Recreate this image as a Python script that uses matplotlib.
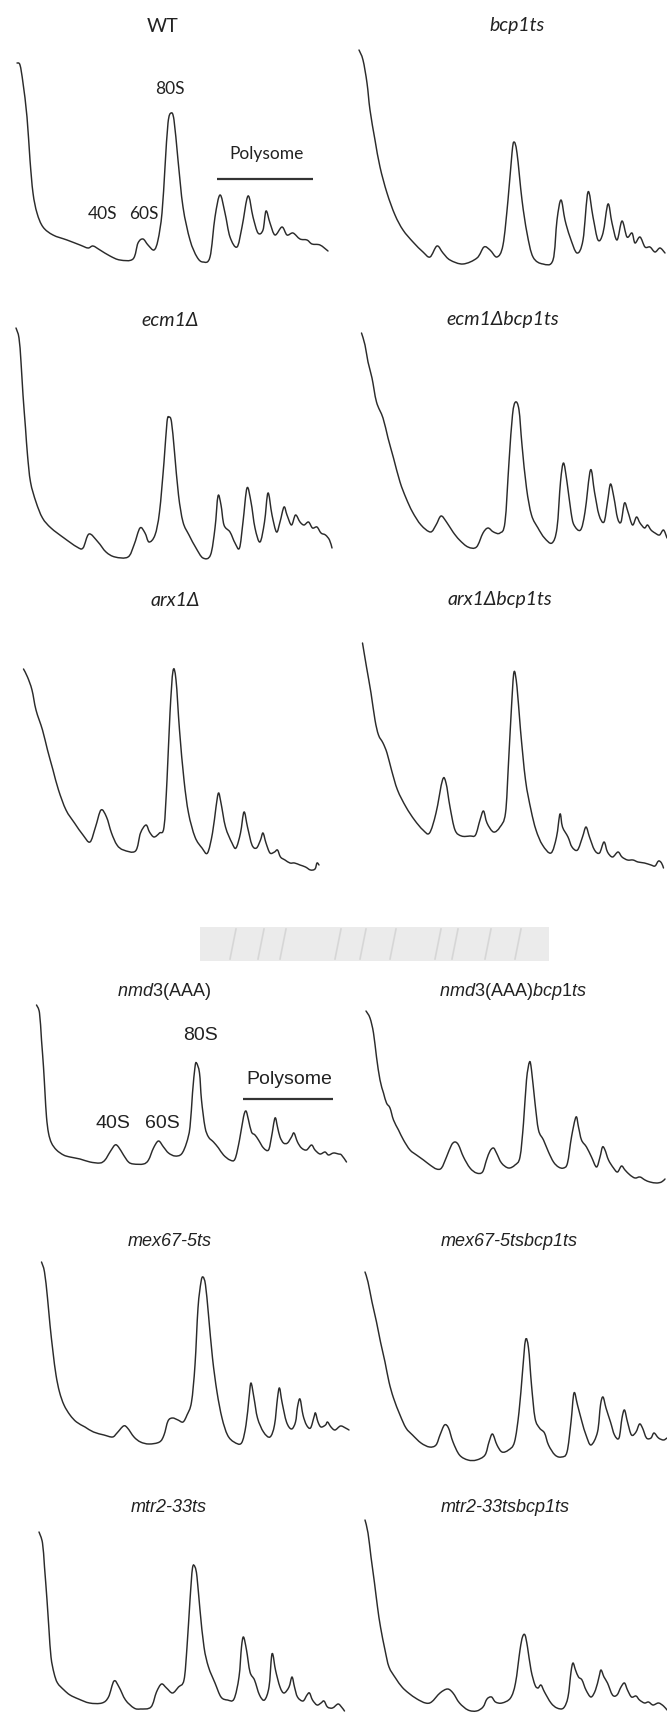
import matplotlib
matplotlib.use("Agg")
import matplotlib.pyplot as plt
from matplotlib.path import Path
from matplotlib.patches import PathPatch

plt.rcParams['mathtext.fontset'] = 'custom'
plt.rcParams['mathtext.rm'] = 'Liberation Sans'
plt.rcParams['mathtext.it'] = 'Liberation Sans:italic'

# sedimentation profiles, x = position along gradient, y = absorbance (arbitrary units)
wt_x = [17, 20, 23, 27, 30, 33, 37, 43, 53, 67, 80, 88, 93, 100, 110, 120, 133, 138, 143, 148, 154, 158, 162, 165, 168, 171, 174, 178, 183, 190, 197, 203, 210, 215, 220, 225, 230, 237, 242, 248, 253, 258, 263, 266, 270, 275, 282, 287, 293, 300, 307, 312, 320, 328]
wt_y = [207, 205, 187, 153, 110, 77, 57, 43, 35, 30, 25, 22, 24, 20, 14, 10, 11, 27, 31, 25, 20, 30, 57, 103, 147, 157, 150, 110, 63, 30, 13, 8, 13, 53, 75, 57, 33, 23, 43, 74, 53, 37, 40, 59, 47, 35, 43, 35, 37, 31, 30, 26, 25, 19]

bcp1_x = [26, 30, 34, 37, 42, 47, 54, 62, 70, 80, 90, 97, 104, 110, 117, 130, 144, 151, 157, 164, 170, 175, 179, 181, 184, 189, 194, 200, 210, 220, 224, 228, 232, 237, 244, 250, 255, 260, 265, 270, 275, 279, 284, 289, 294, 299, 302, 307, 312, 317, 322, 327, 332]
bcp1_y = [220, 210, 187, 160, 130, 103, 77, 55, 40, 28, 18, 13, 24, 17, 10, 6, 12, 23, 20, 13, 25, 70, 117, 128, 117, 70, 37, 13, 6, 10, 50, 70, 50, 33, 17, 30, 78, 53, 30, 37, 66, 47, 30, 49, 33, 37, 27, 33, 23, 23, 18, 22, 17]

ecm1_x = [16, 19, 21, 23, 25.5, 27.5, 30.5, 36, 42.5, 51, 64, 77, 83, 89, 98, 106, 115, 128, 134, 140, 145, 149, 155, 159.5, 164, 167, 169, 171.5, 174.5, 178.5, 183, 189, 196, 203, 210.5, 215, 218, 221, 224, 230, 235, 239.5, 243, 247, 251, 255, 260, 264.5, 268, 272, 276.5, 280, 284, 287, 291.5, 295.5, 300, 304, 308.5, 312.5, 317, 321, 325.5, 329.5, 332]
ecm1_y = [237, 227, 203, 170, 137, 110, 83, 63, 47, 37, 27, 18, 17, 31, 23, 13, 8, 8, 20, 37, 32, 23, 30, 53, 103, 143, 148, 143, 113, 70, 43, 30, 17, 7, 10, 37, 69, 60, 40, 33, 22, 17, 43, 77, 63, 37, 23, 43, 72, 50, 33, 43, 58, 50, 40, 50, 43, 40, 43, 37, 38, 32, 30, 25, 17]

ecm1bcp1_x = [28.5, 32, 35, 39, 43.5, 50, 55, 60.5, 67, 73, 79.5, 88, 97.5, 103, 108, 113.5, 120, 126.5, 135, 143.5, 150, 155, 160.5, 167, 172, 176, 179.5, 182.5, 186, 189, 193.5, 198.5, 205, 211.5, 219, 224, 227.5, 230.5, 234, 238, 241, 247.5, 252, 257.5, 261.5, 266, 271, 274.5, 277.5, 281, 284.5, 288, 291.5, 295, 299.5, 303.5, 307, 311.5, 314.5, 318, 322, 326.5, 330.5, 334]
ecm1bcp1_y = [232, 220, 203, 187, 163, 147, 127, 107, 83, 67, 53, 40, 33, 40, 49, 43, 33, 25, 18, 18, 32, 37, 33, 32, 43, 103, 150, 163, 155, 120, 77, 50, 37, 27, 22, 37, 83, 102, 83, 53, 40, 35, 53, 95, 73, 50, 43, 63, 81, 67, 47, 43, 62, 53, 40, 48, 42, 37, 40, 35, 32, 30, 35, 27]

arx1_x = [23.5, 27.5, 32, 36, 42.5, 47.5, 53, 58.5, 66, 74.5, 83, 90, 95.5, 101, 106.5, 111.5, 117, 123.5, 135.5, 140.5, 146, 149.5, 154, 159.5, 164, 167, 170, 173, 176, 179.5, 184, 188.5, 195, 202, 207.5, 212.5, 216, 218.5, 221, 225.5, 232, 236, 240.5, 244, 247.5, 252, 256.5, 260.5, 263, 266, 270, 274.5, 277.5, 280.5, 285, 290, 294.5, 300, 305.5, 310.5, 315, 317, 319]
arx1_y = [211, 203, 190, 170, 150, 130, 110, 90, 70, 57, 45, 38, 53, 70, 63, 47, 35, 30, 29, 47, 55, 48, 43, 47, 53, 100, 167, 209, 200, 150, 100, 67, 43, 32, 27, 47, 73, 87, 77, 53, 37, 32, 47, 68, 53, 35, 32, 40, 47, 37, 27, 28, 30, 23, 20, 17, 17, 15, 13, 10, 11, 17, 15]

arx1bcp1_x = [29.5, 33.5, 38, 42, 45.5, 50, 54, 58.5, 64.5, 73, 81.5, 90, 96.5, 103, 109.5, 113, 117, 122, 128.5, 137, 142.5, 147, 150.5, 154, 160.5, 167, 172.5, 175.5, 178.5, 181, 184, 187.5, 192.5, 198, 203, 209.5, 218, 223.5, 227, 229.5, 235, 239, 244.5, 249.5, 253, 256.5, 261.5, 266.5, 271, 274.5, 279.5, 285, 289, 294.5, 300, 305, 311.5, 318, 322, 325.5, 328.5, 330.5]
arx1bcp1_y = [237, 213, 187, 160, 145, 137, 127, 110, 90, 73, 60, 50, 47, 67, 100, 97, 73, 50, 44, 44, 45, 60, 69, 57, 48, 53, 67, 117, 173, 208, 193, 150, 100, 70, 50, 35, 27, 43, 66, 53, 43, 33, 30, 43, 53, 43, 30, 27, 38, 28, 23, 28, 23, 20, 20, 18, 17, 15, 14, 19, 17, 12]

nmd3_x = [36.5, 39.5, 41.5, 43.5, 45, 46.5, 48.5, 51.5, 56.5, 63.5, 70, 80, 90, 100, 105, 110, 115, 118.5, 123.5, 128.5, 133.5, 143.5, 148.5, 153.5, 158.5, 163.5, 168.5, 175, 181.5, 186.5, 190, 192.5, 195, 196.5, 199.5, 201.5, 205, 208.5, 213.5, 218.5, 223.5, 230, 235, 239.5, 243.5, 246, 248.5, 251.5, 255, 258.5, 263.5, 268.5, 271.5, 275, 277.5, 280, 283.5, 287.5, 291.5, 294, 297.5, 301.5, 306.5, 311.5, 315, 320, 325, 328.5, 333.5, 338.5, 341.5, 346.5]
nmd3_y = [210, 202, 175, 148, 122, 98, 82, 72, 65, 60, 58, 56, 53, 52, 55, 63, 70, 68, 60, 53, 51, 51, 55, 67, 74, 68, 62, 59, 61, 72, 88, 122, 148, 152, 142, 115, 88, 78, 73, 67, 60, 55, 56, 75, 98, 104, 95, 83, 80, 75, 67, 65, 78, 97, 88, 78, 72, 72, 78, 82, 73, 67, 65, 70, 65, 61, 63, 60, 62, 61, 60, 53]

nmd3bcp1_x = [33, 37, 40.5, 43.5, 47, 50.5, 53.5, 57, 60.5, 65.5, 70.5, 77, 83.5, 90.5, 97, 103.5, 108.5, 113.5, 118.5, 122, 125.5, 130.5, 137, 143.5, 149.5, 153.5, 157, 160.5, 163.5, 168.5, 175.5, 182, 187, 190.5, 193.5, 196.5, 198.5, 202, 205.5, 210.5, 215.5, 220.5, 225.5, 230.5, 234.5, 238.5, 243, 245.5, 248.5, 253.5, 258.5, 263.5, 267, 269.5, 272, 275.5, 280.5, 284.5, 288.5, 292, 297, 302, 307, 312, 317, 323.5, 328.5, 332]
nmd3bcp1_y = [204, 197, 182, 158, 135, 122, 112, 107, 95, 85, 75, 65, 60, 55, 50, 46, 47, 58, 70, 73, 70, 58, 47, 42, 43, 55, 64, 67, 62, 52, 47, 50, 58, 92, 135, 153, 145, 112, 85, 75, 63, 53, 48, 47, 52, 78, 98, 88, 75, 68, 58, 48, 58, 68, 65, 55, 47, 43, 49, 45, 40, 37, 38, 35, 33, 32, 33, 36]

mex67_x = [41.5, 44.5, 47.5, 50, 53, 56, 59.5, 64, 70, 76.5, 85, 93.5, 104, 112.5, 117, 123.5, 127.5, 134, 140.5, 149, 159.5, 164, 168, 172.5, 178, 183, 187, 191.5, 195, 198, 201, 203, 205.5, 208.5, 212.5, 217, 222, 227.5, 234, 241.5, 246, 249, 251, 254, 257.5, 263.5, 270, 274.5, 277.5, 279.5, 282, 286.5, 291.5, 295.5, 297.5, 300, 303, 306.5, 310.5, 314, 315.5, 318, 321, 325.5, 327.5, 331, 335, 340.5, 345.5, 349]
mex67_y = [218, 208, 182, 155, 128, 105, 88, 75, 65, 58, 53, 48, 45, 43, 47, 54, 52, 43, 38, 36, 38, 45, 59, 62, 60, 58, 65, 78, 115, 172, 198, 203, 195, 165, 122, 88, 62, 45, 38, 37, 55, 82, 97, 82, 62, 48, 43, 55, 82, 92, 78, 58, 51, 58, 73, 81, 65, 55, 52, 63, 67, 58, 53, 55, 58, 53, 50, 54, 52, 50]

mex67bcp1_x = [32, 35, 39, 43.5, 47.5, 52, 56, 60.5, 67, 73, 79.5, 88, 96.5, 103, 107, 111.5, 115.5, 120, 126.5, 135, 143.5, 152, 156, 159.5, 164, 169, 175.5, 181.5, 186, 189.5, 192.5, 195.5, 198.5, 202, 206.5, 211.5, 215.5, 222, 228.5, 234, 238, 241, 244.5, 249, 253, 258, 264.5, 267.5, 270, 273, 277.5, 281.5, 286, 289, 291.5, 294.5, 298.5, 303, 306.5, 309.5, 313.5, 318, 321, 325.5, 330.5, 334]
mex67bcp1_y = [208, 198, 178, 158, 138, 118, 98, 82, 65, 52, 45, 37, 33, 35, 45, 55, 52, 38, 25, 20, 20, 25, 38, 46, 35, 28, 30, 38, 68, 108, 140, 132, 95, 62, 52, 47, 35, 25, 23, 28, 58, 87, 75, 58, 45, 35, 48, 75, 83, 72, 58, 45, 42, 62, 70, 58, 45, 48, 56, 52, 42, 42, 47, 42, 40, 42]

mtr2_x = [39, 42.5, 44.5, 47, 49, 51, 54, 57.5, 64, 70, 78.5, 89.5, 102, 108.5, 114, 119, 125.5, 134, 140.5, 151, 156.5, 161.5, 166.5, 172.5, 178.5, 184, 187, 190, 192.5, 195, 197, 200, 204, 208.5, 215, 221, 227.5, 234, 239, 241.5, 243.5, 246.5, 250, 254.5, 259.5, 264.5, 269, 271.5, 273, 275.5, 280, 284, 289, 292, 294.5, 297.5, 303, 307, 309.5, 312.5, 317, 321, 324, 327.5, 332.5, 338, 341.5, 344.5]
mtr2_y = [181, 170, 146, 113, 83, 56, 40, 30, 23, 18, 14, 10, 10, 16, 32, 26, 13, 5, 4, 6, 21, 29, 25, 20, 26, 33, 66, 113, 145, 146, 136, 103, 66, 46, 30, 16, 13, 14, 36, 66, 76, 63, 41, 33, 18, 13, 26, 56, 58, 43, 26, 20, 26, 36, 26, 16, 12, 18, 20, 13, 8, 10, 12, 6, 5, 9, 6, 2]

mtr2bcp1_x = [32, 35, 38, 41.5, 44.5, 47.5, 52, 56, 62.5, 69, 75.5, 84, 92.5, 98.5, 107, 114.5, 120, 126.5, 135, 143.5, 150, 154, 158.5, 162.5, 169, 177.5, 182.5, 187, 189.5, 192, 194.5, 198, 202, 205, 208, 211.5, 218, 224, 230.5, 235, 238, 240, 242.5, 245.5, 249, 253, 258, 262.5, 266, 268, 271, 274.5, 279.5, 284, 288, 291.5, 294.5, 298.5, 303, 306.5, 311.5, 315.5, 320, 325.5, 330.5, 334]
mtr2bcp1_y = [193, 180, 156, 130, 106, 86, 63, 46, 35, 26, 20, 14, 10, 11, 20, 24, 20, 10, 3, 2, 6, 14, 16, 11, 10, 15, 30, 63, 76, 78, 66, 43, 28, 25, 28, 21, 10, 5, 5, 16, 41, 50, 43, 36, 33, 23, 16, 23, 36, 43, 36, 30, 18, 18, 26, 30, 23, 16, 17, 13, 10, 11, 8, 10, 7, 3]

titles_left = ['WT', 'ecm1Δ', 'arx1Δ', r'$\mathit{nmd3}\mathrm{(AAA)}$', 'mex67-5ts', 'mtr2-33ts']
titles_right = ['bcp1ts', 'ecm1Δbcp1ts', 'arx1Δbcp1ts', r'$\mathit{nmd3}\mathrm{(AAA)}\mathit{bcp1ts}$', 'mex67-5tsbcp1ts', 'mtr2-33tsbcp1ts']
left_traces = [(wt_x, wt_y), (ecm1_x, ecm1_y), (arx1_x, arx1_y), (nmd3_x, nmd3_y), (mex67_x, mex67_y), (mtr2_x, mtr2_y)]
right_traces = [(bcp1_x, bcp1_y), (ecm1bcp1_x, ecm1bcp1_y), (arx1bcp1_x, arx1bcp1_y), (nmd3bcp1_x, nmd3bcp1_y), (mex67bcp1_x, mex67bcp1_y), (mtr2bcp1_x, mtr2bcp1_y)]

W, H = 667, 1713
rows_floor = [270, 565, 880, 1215, 1480, 1713]
rows_h = [270, 275, 300, 235, 255, 223]
title_y = [244, 245, 280, 224, 239, 206]
title_xl = [163, 170, 175, 164, 170, 169]
title_xr = [184, 170, 167, 180, 176, 172]
calibri = ['Lato', 'Open Sans', 'DejaVu Sans']
arial = ['Liberation Sans', 'DejaVu Sans']
line_col = '#2b2b2b'

fig = plt.figure(figsize=(W / 100, H / 100), dpi=100)


def make_ax(col, r):
    left = 0 if col == 0 else 333
    ax = fig.add_axes([left / W, (H - rows_floor[r]) / H, 333 / W, rows_h[r] / H])
    ax.set_xlim(0, 333)
    ax.set_ylim(0, rows_h[r])
    ax.axis('off')
    return ax


def smooth_trace(ax, xs, ys):
    # draw a smooth (Catmull-Rom style) bezier path through the read points
    pts = list(zip(xs, ys))
    verts = [pts[0]]
    codes = [Path.MOVETO]
    n = len(pts)
    for i in range(n - 1):
        p0 = pts[i - 1] if i > 0 else pts[i]
        p1 = pts[i]
        p2 = pts[i + 1]
        p3 = pts[i + 2] if i + 2 < n else pts[i + 1]
        c1 = (p1[0] + (p2[0] - p0[0]) / 6, p1[1] + (p2[1] - p0[1]) / 6)
        c2 = (p2[0] - (p3[0] - p1[0]) / 6, p2[1] - (p3[1] - p1[1]) / 6)
        verts += [c1, c2, p2]
        codes += [Path.CURVE4] * 3
    patch = PathPatch(Path(verts, codes), fill=False, edgecolor=line_col, lw=1.05,
                      joinstyle='round', capstyle='round', clip_on=False)
    ax.add_patch(patch)


def label_peaks(ax, fam, size, pos):
    for txt, (x, y) in pos['text'].items():
        ax.text(x, y, txt, ha='center', va='center', fontsize=size, family=fam, color='#222222')
    bx0, bx1, by = pos['bar']
    ax.plot([bx0, bx1], [by, by], color='#333333', lw=1.6, solid_capstyle='butt', clip_on=False)


for r in range(6):
    fam = calibri if r < 3 else arial
    tsize = 14 if r < 3 else 13
    for col in range(2):
        ax = make_ax(col, r)
        xs, ys = (left_traces if col == 0 else right_traces)[r]
        smooth_trace(ax, xs, ys)
        t = (titles_left if col == 0 else titles_right)[r]
        tx = (title_xl if col == 0 else title_xr)[r]
        style = 'normal' if t == 'WT' else 'italic'
        ax.text(tx, title_y[r], t, ha='center', va='center', fontsize=tsize,
                family=fam, style=style, color='#222222')
        if col == 0 and r == 0:
            label_peaks(ax, calibri, 12.5, {'text': {'40S': (103, 56), '60S': (144, 56), '80S': (170, 181), 'Polysome': (267, 116)},
                                            'bar': (217, 313, 91)})
        if col == 0 and r == 3:
            label_peaks(ax, arial, 14, {'text': {'40S': (113, 91), '60S': (162, 91), '80S': (200, 179), 'Polysome': (289, 136)},
                                        'bar': (243, 333, 116)})

# faded scan artefact between the two figure halves
wm = fig.add_axes([200 / W, (H - 961) / H, 349 / W, 34 / H])
wm.set_xlim(0, 349)
wm.set_ylim(0, 34)
wm.axis('off')
wm.fill_between([0, 349], 0, 34, color='#ebebeb', lw=0)
for sx in [30, 58, 80, 135, 160, 190, 235, 252, 285, 315]:
    wm.plot([sx, sx + 6], [2, 32], color='#d6d6d6', lw=1.2)

fig.savefig('out.png', dpi=100)
